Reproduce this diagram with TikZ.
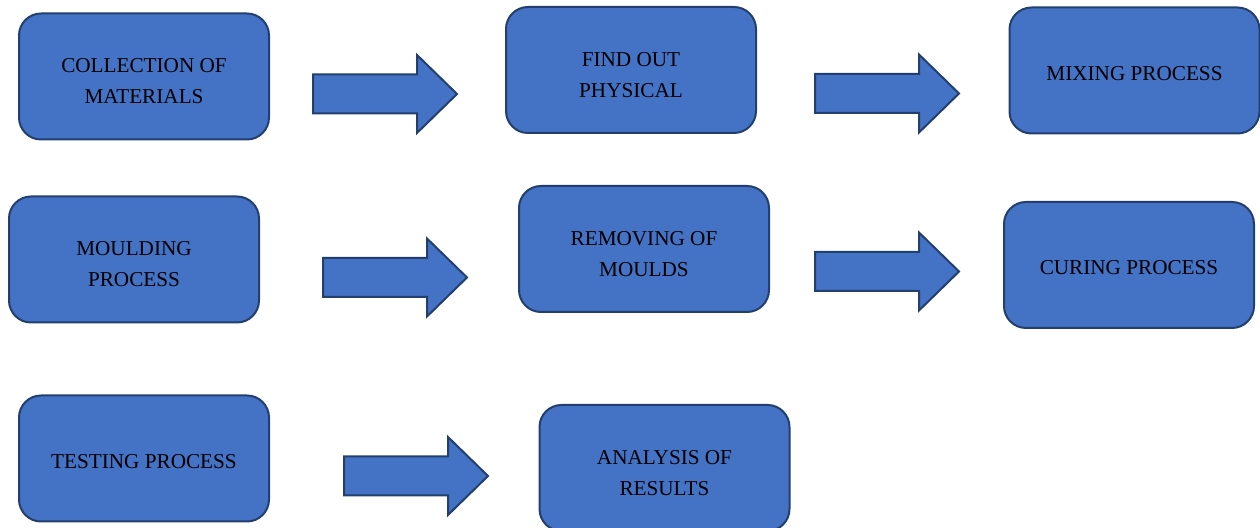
\documentclass[tikz,border=0pt]{standalone}
\usepackage{fontspec}
\setmainfont{Liberation Serif}

\definecolor{office_blue}{HTML}{4472C4}
\definecolor{office_edge}{HTML}{223F6E}

% block arrow from a left end point, 144 units long
\newcommand{\blockarrow}[1]{%
   \draw [fill=office_blue, draw=office_edge, line width=1pt, line join=miter]
      (#1) ++(0,-19.5) -- ++(104,0) -- ++(0,-19.5) -- ++(40,39)
      -- ++(-40,39) -- ++(0,-19.5) -- ++(-104,0) -- cycle;}

\begin{document}
\begin{tikzpicture}[x=0.5pt, y=-0.5pt,
   stage/.style={rectangle, rounded corners=11pt, fill=office_blue, draw=office_edge,
      line width=1pt, minimum width=125pt, minimum height=63pt, align=center,
      text height=10pt, font=\fontsize{10.6}{15.5}\selectfont},
   stage2/.style={stage, text height=27.5pt}]
   \useasboundingbox (0,0) rectangle (1260,528);
   % first row
   \node [stage2] (collect) at (144, 76.5) {COLLECTION OF\\MATERIALS};
   \node [stage2] (physical) at (631, 70) {FIND OUT\\PHYSICAL};
   \node [stage] (mixing) at (1134.5, 70.5) {MIXING PROCESS};
   \coordinate (a1) at (313, 94);
   \coordinate (a2) at (815, 93.5);
   \blockarrow{a1}
   \blockarrow{a2}
   % second row
   \node [stage2] (moulding) at (134, 259.5) {MOULDING\\PROCESS};
   \node [stage2] (removing) at (644, 249) {REMOVING OF\\MOULDS};
   \node [stage] (curing) at (1129, 265) {CURING PROCESS};
   \coordinate (a3) at (323, 277.5);
   \coordinate (a4) at (815, 271.5);
   \blockarrow{a3}
   \blockarrow{a4}
   % last row
   \node [stage] (testing) at (144, 458.5) {TESTING PROCESS};
   \node [stage2] (analysis) at (664.5, 468) {ANALYSIS OF\\RESULTS};
   \coordinate (a5) at (344, 476);
   \blockarrow{a5}
\end{tikzpicture}
\end{document}
